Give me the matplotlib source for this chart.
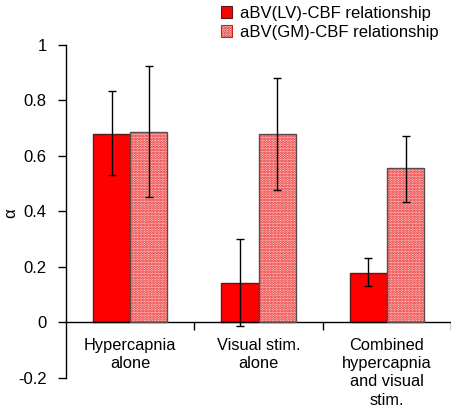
import matplotlib
matplotlib.use("Agg")
import matplotlib.pyplot as plt
import numpy as np
from matplotlib.patches import Patch

plt.rcParams['font.family'] = ['Liberation Sans', 'DejaVu Sans']
plt.rcParams['hatch.linewidth'] = 1.4

categories = ["Hypercapnia\nalone", "Visual stim.\nalone", "Combined\nhypercapnia\nand visual\nstim."]
lv_vals = [0.68, 0.144, 0.18]
lv_err_hi = [0.835, 0.30, 0.232]
lv_err_lo = [0.532, -0.013, 0.133]
gm_vals = [0.687, 0.68, 0.555]
gm_err_hi = [0.925, 0.882, 0.672]
gm_err_lo = [0.452, 0.477, 0.435]
series_names = ["aBV(LV)-CBF relationship", "aBV(GM)-CBF relationship"]
yticks = [-0.2, 0, 0.2, 0.4, 0.6, 0.8, 1]
ytick_labels = ["-0.2", "0", "0.2", "0.4", "0.6", "0.8", "1"]

fig = plt.figure(figsize=(4.52, 4.12), dpi=100)
ax = fig.add_axes([0.146, 0.0825, 0.852, 0.8085])

x = np.arange(len(categories))
w = 0.29
lv_yerr = [np.array(lv_vals) - np.array(lv_err_lo), np.array(lv_err_hi) - np.array(lv_vals)]
gm_yerr = [np.array(gm_vals) - np.array(gm_err_lo), np.array(gm_err_hi) - np.array(gm_vals)]

ax.bar(x - w/2, lv_vals, w, color='#ff0000', edgecolor='#5a1a1a', linewidth=1.0, zorder=2)
ax.bar(x + w/2, gm_vals, w, color='#ffd8d8', edgecolor='#e81818', hatch='......', linewidth=0, zorder=2)
ax.bar(x + w/2, gm_vals, w, color='none', edgecolor='#5a4a4a', linewidth=1.0, zorder=3)

ax.errorbar(x - w/2, lv_vals, yerr=lv_yerr, fmt='none', ecolor='black', elinewidth=1.0, capsize=3, capthick=1.0, zorder=4)
ax.errorbar(x + w/2, gm_vals, yerr=gm_yerr, fmt='none', ecolor='black', elinewidth=1.0, capsize=3, capthick=1.0, zorder=4)

ax.set_xlim(-0.5, 2.5)
ax.set_ylim(-0.2, 1.0)
ax.spines['top'].set_visible(False)
ax.spines['right'].set_visible(False)
ax.spines['bottom'].set_position(('data', 0))
ax.spines['left'].set_linewidth(1.0)
ax.spines['bottom'].set_linewidth(1.0)

ax.set_yticks(yticks)
ax.set_yticklabels(ytick_labels, fontsize=12)
ax.tick_params(axis='y', direction='out', length=6, width=1.0, pad=8)

ax.set_xticks([0.5, 1.5, 2.5])
ax.set_xticklabels(['', '', ''])
ax.tick_params(axis='x', which='major', direction='out', length=6, width=1.0)
ax.set_xticks(x, minor=True)
ax.set_xticklabels(categories, minor=True, fontsize=11.8, linespacing=1.28)
ax.tick_params(axis='x', which='minor', length=0, pad=11)

fig.text(11 / 452, 1 - 213 / 412, 'α', fontsize=12, rotation=90, ha='center', va='center')

h1 = Patch(facecolor='#ff0000', edgecolor='#5a1a1a', linewidth=0.8)
h2 = Patch(facecolor='#ffd8d8', edgecolor='#cc2020', hatch='......', linewidth=0.8)
fig.legend([h1, h2], series_names, loc='upper left', bbox_to_anchor=(0.455, 1.022),
           frameon=False, fontsize=12, handlelength=0.7, handleheight=0.7,
           handletextpad=0.45, labelspacing=0.25)

fig.savefig('out.png', dpi=100)
